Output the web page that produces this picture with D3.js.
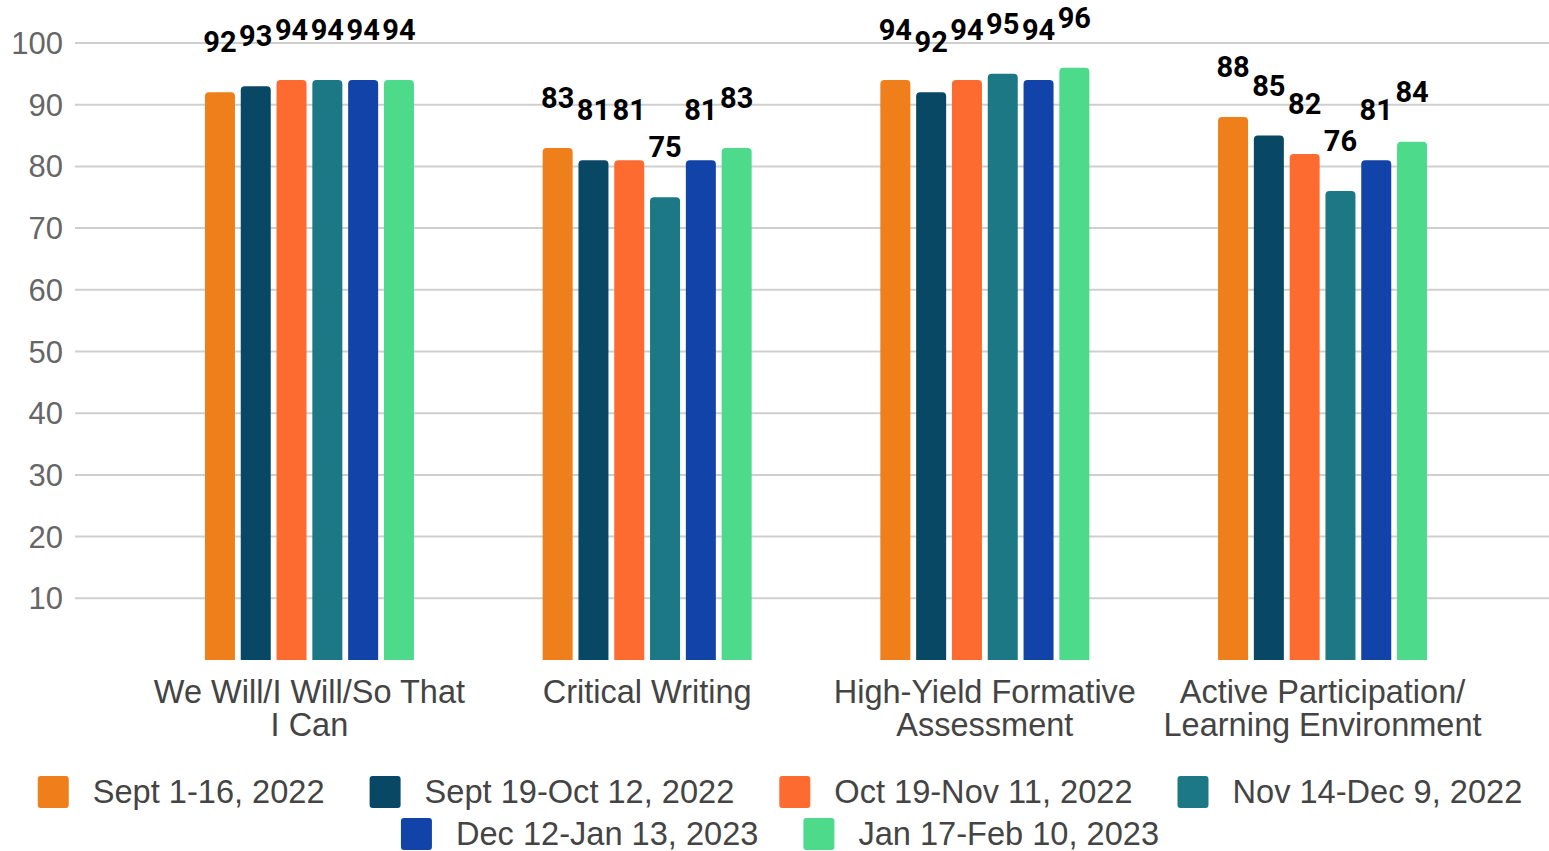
<!DOCTYPE html>
<html>
<head>
<meta charset="utf-8">
<script src="https://cdn.jsdelivr.net/npm/d3@7"></script>
<style>
  html, body { margin: 0; padding: 0; background: #fff; }
  svg { display: block; }
</style>
</head>
<body>
<svg id="chart" width="1549" height="851"></svg>
<script>
const categories = [
  ["We Will/I Will/So That", "I Can"],
  ["Critical Writing"],
  ["High-Yield Formative", "Assessment"],
  ["Active Participation/", "Learning Environment"]
];
const categoryKeys = ["We Will/I Will/So That I Can", "Critical Writing", "High-Yield Formative Assessment", "Active Participation/Learning Environment"];
const seriesNames = ["Sept 1-16, 2022", "Sept 19-Oct 12, 2022", "Oct 19-Nov 11, 2022", "Nov 14-Dec 9, 2022", "Dec 12-Jan 13, 2023", "Jan 17-Feb 10, 2023"];
const seriesColors = ["#EE7F1A", "#084864", "#FD6B30", "#1D7886", "#1143A9", "#4DDA8B"];
const sept1_16 = [92, 83, 94, 88];
const sept19_oct12 = [93, 81, 92, 85];
const oct19_nov11 = [94, 81, 94, 82];
const nov14_dec9 = [94, 75, 95, 76];
const dec12_jan13 = [94, 81, 94, 81];
const jan17_feb10 = [94, 83, 96, 84];
const seriesValues = [sept1_16, sept19_oct12, oct19_nov11, nov14_dec9, dec12_jan13, jan17_feb10];
const yTicks = [10, 20, 30, 40, 50, 60, 70, 80, 90, 100];

const svg = d3.select("#chart");
const y = d3.scaleLinear().domain([0, 100]).range([660, 43]);
const x0 = d3.scaleBand().domain(categoryKeys).range([140.6, 1491.4]);
const x1 = d3.scaleBand().domain(seriesNames).range([0, 214.8]).paddingInner(0.162).paddingOuter(0.081);
const groupOffset = (x0.bandwidth() - 214.8) / 2;
const sans = "Liberation Sans, Arial, sans-serif";

// gridlines
svg.append("g").selectAll("line").data(yTicks).join("line")
  .attr("x1", 75).attr("x2", 1549)
  .attr("y1", d => y(d)).attr("y2", d => y(d))
  .attr("stroke", "#cfcfcf").attr("stroke-width", 2);

// y tick labels
svg.append("g").selectAll("text").data(yTicks).join("text")
  .attr("x", 63).attr("y", d => y(d) + 11)
  .attr("text-anchor", "end")
  .attr("font-family", sans)
  .attr("font-size", 31).attr("fill", "#666")
  .text(d => d);

// bars
function topRounded(x, yTop, w, h, r) {
  r = Math.min(r, w / 2, h);
  return `M${x},${yTop + h}V${yTop + r}Q${x},${yTop} ${x + r},${yTop}H${x + w - r}Q${x + w},${yTop} ${x + w},${yTop + r}V${yTop + h}Z`;
}
const barData = [];
categoryKeys.forEach((c, ci) => {
  seriesNames.forEach((s, si) => {
    barData.push({ c, s, si, v: seriesValues[si][ci] });
  });
});
svg.append("g").selectAll("path").data(barData).join("path")
  .attr("d", d => {
    const bx = x0(d.c) + groupOffset + x1(d.s);
    return topRounded(bx, y(d.v), x1.bandwidth(), y(0) - y(d.v), 4);
  })
  .attr("fill", d => seriesColors[d.si]);

// data labels
svg.append("g").selectAll("text").data(barData).join("text")
  .attr("x", d => x0(d.c) + groupOffset + x1(d.s) + x1.bandwidth() / 2)
  .attr("y", d => y(d.v) - 40)
  .attr("text-anchor", "middle")
  .attr("font-family", "Roboto, sans-serif")
  .attr("font-weight", "bold")
  .attr("font-size", 29).attr("fill", "#000")
  .text(d => d.v);

// category labels
const catG = svg.append("g");
categoryKeys.forEach((c, ci) => {
  const cx = x0(c) + x0.bandwidth() / 2;
  categories[ci].forEach((line, li) => {
    catG.append("text")
      .attr("x", cx).attr("y", 703 + li * 33)
      .attr("text-anchor", "middle")
      .attr("font-family", sans)
      .attr("font-size", 32.5).attr("fill", "#444")
      .text(line);
  });
});

// legend
const legendRows = [[0, 1, 2, 3], [4, 5]];
const rowY = [792, 834];
const lg = svg.append("g");
const sw = 31, swGap = 24, itemGap = 45, centerX = 780;
legendRows.forEach((row, ri) => {
  const items = row.map(si => {
    const t = lg.append("text")
      .attr("font-family", sans)
      .attr("font-size", 32.6).attr("fill", "#444")
      .text(seriesNames[si]);
    return { si, t, w: t.node().getComputedTextLength() };
  });
  const total = d3.sum(items, d => sw + swGap + d.w) + itemGap * (items.length - 1);
  let cx = centerX - total / 2;
  items.forEach(it => {
    lg.append("rect")
      .attr("x", cx).attr("y", rowY[ri] - 16)
      .attr("width", sw).attr("height", 32)
      .attr("rx", 3).attr("fill", seriesColors[it.si]);
    it.t.attr("x", cx + sw + swGap).attr("y", rowY[ri] + 11);
    cx += sw + swGap + it.w + itemGap;
  });
});
</script>
</body>
</html>
